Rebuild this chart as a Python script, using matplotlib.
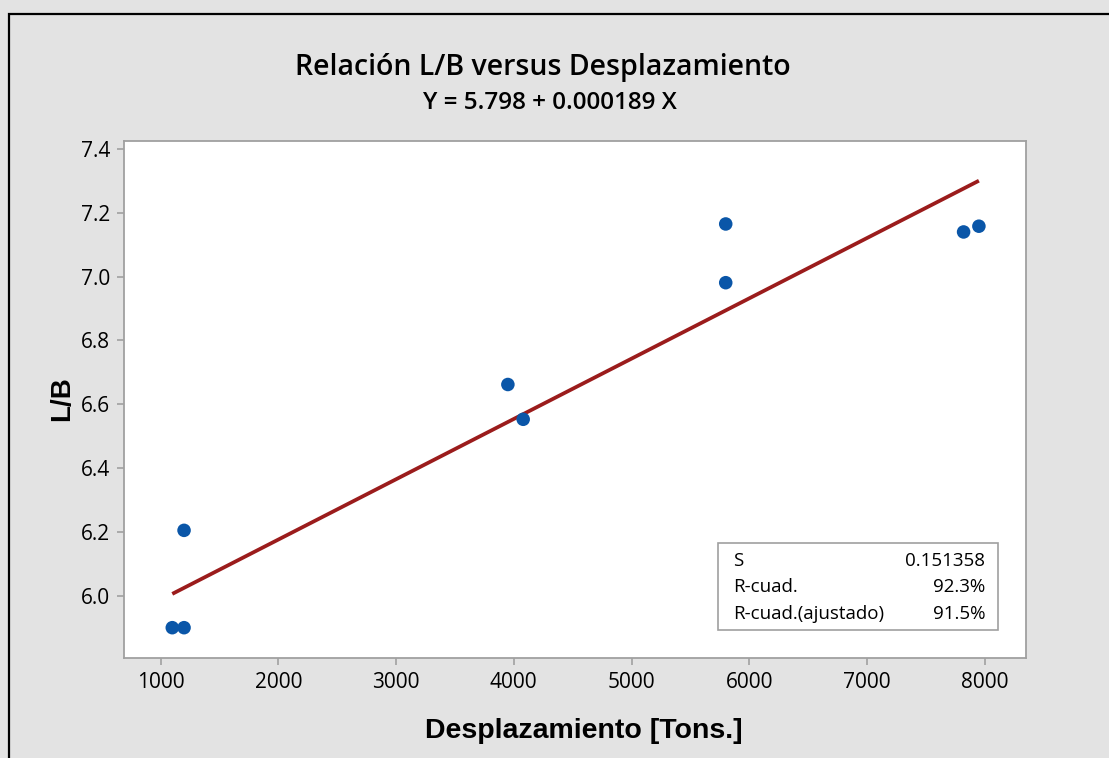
import matplotlib
matplotlib.use("Agg")
import matplotlib.pyplot as plt
from matplotlib.patches import Rectangle
import numpy as np

# Data
desplazamiento = [1100, 1200, 1200, 3950, 4080, 5800, 5800, 7820, 7950]
lb = [5.90, 5.90, 6.205, 6.662, 6.553, 7.165, 6.981, 7.140, 7.158]
intercept = 5.798
slope = 0.000189
x_ticks = [1000, 2000, 3000, 4000, 5000, 6000, 7000, 8000]
y_ticks = [6.0, 6.2, 6.4, 6.6, 6.8, 7.0, 7.2, 7.4]
stats_labels = ["S", "R-cuad.", "R-cuad.(ajustado)"]
stats_values = ["0.151358", "92.3%", "91.5%"]

W, H = 1109, 758
fig = plt.figure(figsize=(W / 100, H / 100), dpi=100)
fig.patch.set_facecolor("#e3e3e3")

# outer black frame (cut off at right/bottom)
fig.patches.append(Rectangle((9 / W, -0.05), 1.2, 1 - 14 / H + 0.05, transform=fig.transFigure,
                             fill=False, edgecolor="black", linewidth=1.6, zorder=0))

ax = fig.add_axes([124 / W, 1 - 658 / H, (1026 - 124) / W, (658 - 141) / H])
ax.set_facecolor("white")

xs = np.array([min(desplazamiento), max(desplazamiento)])
ax.plot(xs, intercept + slope * xs, color="#9b1c1c", linewidth=2.7, zorder=2, solid_capstyle="butt")
ax.scatter(desplazamiento, lb, s=95, color="#0a56a8", zorder=3, edgecolors="none")

ax.set_xlim(690, 8350)
ax.set_ylim(5.805, 7.425)
ax.set_xticks(x_ticks)
ax.set_yticks(y_ticks)
ax.set_xticklabels([str(t) for t in x_ticks])
ax.set_yticklabels([f"{t:.1f}" for t in y_ticks])

for s in ax.spines.values():
    s.set_color("#a0a0a0")
    s.set_linewidth(1.3)
ax.tick_params(axis="both", colors="#a0a0a0", length=5, width=1.2, labelcolor="black",
               labelsize=15, pad=5)
for lab in ax.get_xticklabels() + ax.get_yticklabels():
    lab.set_family("Open Sans")

fig.text(543 / W, 1 - 68 / H, "Relación L/B versus Desplazamiento", ha="center", va="center",
         fontsize=20.5, family="Open Sans", weight="semibold")
fig.text(550 / W, 1 - 103 / H, "Y = 5.798 + 0.000189 X", ha="center", va="center",
         fontsize=17.5, family="Open Sans", weight="semibold")
fig.text(584 / W, 1 - 731 / H, "Desplazamiento [Tons.]", ha="center", va="center",
         fontsize=20.5, family="Liberation Sans", weight="bold")
fig.text(62 / W, 1 - 399 / H, "L/B", ha="center", va="center", rotation=90,
         fontsize=20, family="Liberation Sans", weight="bold")

# statistics box
bx0, by0, bx1, by1 = 718, 543, 998, 630
fig.patches.append(Rectangle((bx0 / W, 1 - by1 / H), (bx1 - bx0) / W, (by1 - by0) / H,
                             transform=fig.transFigure, facecolor="white", edgecolor="#a0a0a0",
                             linewidth=1.2, zorder=5))
row_y = [561, 587, 614]
for lab, val, ry in zip(stats_labels, stats_values, row_y):
    fig.text(733 / W, 1 - ry / H, lab, ha="left", va="center", fontsize=13.5,
             family="Open Sans", zorder=6)
    fig.text(985 / W, 1 - ry / H, val, ha="right", va="center", fontsize=13.5,
             family="Open Sans", zorder=6)

fig.savefig("out.png", dpi=100, facecolor=fig.get_facecolor())
